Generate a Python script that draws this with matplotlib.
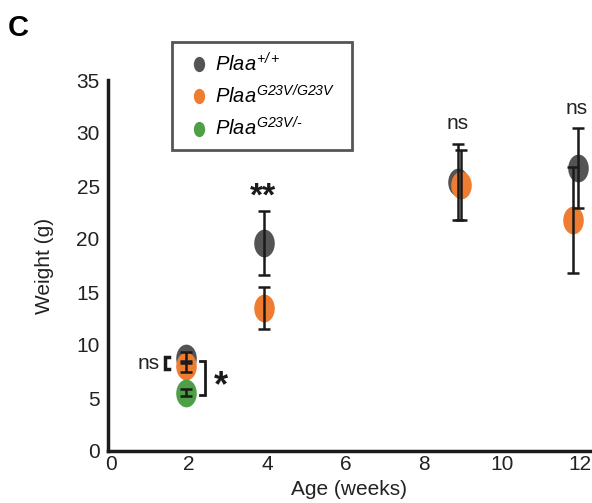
import numpy as np
import matplotlib.pyplot as plt
from matplotlib.path import Path
from matplotlib.transforms import Affine2D, ScaledTranslation
from matplotlib.lines import Line2D
from matplotlib.patches import Rectangle

plt.rcParams['font.family'] = ['Liberation Sans', 'DejaVu Sans']
plt.rcParams['mathtext.fontset'] = 'custom'
plt.rcParams['mathtext.it'] = 'Liberation Sans:italic'
plt.rcParams['mathtext.rm'] = 'Liberation Sans:italic'

# weight (g) by age, mean and error
wt_age = [2, 4, 8.95, 12.02]
wt_mean = [8.8, 19.6, 25.4, 26.7]
wt_err = [0.5, 3.0, 3.6, 3.75]

g23v_age = [2, 4, 9.03, 11.9]
g23v_mean = [8.0, 13.5, 25.1, 21.8]
g23v_err = [0.5, 2.0, 3.3, 5.0]

het_age = [2]
het_mean = [5.5]
het_err = [0.35]

labels = [r'$\mathit{Plaa}^{\mathit{+/+}}$',
          r'$\mathit{Plaa}^{\mathit{G23V/G23V}}$',
          r'$\mathit{Plaa}^{\mathit{G23V/}\text{-}}$']
colors = ['#545454', '#ee7d31', '#4ea046']

# tall ellipse marker
ellipse = Path.unit_circle().transformed(Affine2D().scale(0.74, 1.0))

fig = plt.figure(figsize=(5.92, 5.03), dpi=100)
ax = fig.add_axes([108/592, 1 - 451/503, 482/592, 371/503])

series = [(wt_age, wt_mean, wt_err), (g23v_age, g23v_mean, g23v_err), (het_age, het_mean, het_err)]
for i, (x, y, e) in enumerate(series):
    ax.plot(x, y, linestyle='none', marker=ellipse, markersize=20, color=colors[i],
            markeredgewidth=0, zorder=2 + i)
    ax.errorbar(x, y, yerr=e, fmt='none', ecolor='#1a1a1a', elinewidth=1.8,
                capsize=4, capthick=1.8, zorder=5 + i)

ax.set_xlim(0, 12.33)
ax.set_ylim(0, 35)
ax.set_xticks([0, 2, 4, 6, 8, 10, 12])
ax.set_yticks([0, 5, 10, 15, 20, 25, 30, 35])
ax.tick_params(length=0, labelsize=15, colors='#222222', pad=6)
ax.tick_params(axis='x', pad=3)
shift = ScaledTranslation(3/100, 0, fig.dpi_scale_trans)
for lab in ax.get_xticklabels():
    lab.set_transform(lab.get_transform() + shift)
for s in ['top', 'right']:
    ax.spines[s].set_visible(False)
for s in ['left', 'bottom']:
    ax.spines[s].set_linewidth(2.5)
    ax.spines[s].set_color('#1a1a1a')
ax.set_xlabel('Age (weeks)', fontsize=15, labelpad=4, color='#222222')
ax.set_ylabel('Weight (g)', fontsize=15, labelpad=16, color='#222222')

# significance marks
ax.text(8.95, 30.9, 'ns', ha='center', va='center', fontsize=15, color='#222222')
ax.text(12.0, 32.3, 'ns', ha='center', va='center', fontsize=15, color='#222222')
ax.text(3.97, 24.0, '**', ha='center', va='center', fontsize=24, fontweight='bold', color='#1a1a1a')
ax.plot([1.56, 1.46, 1.46, 1.56], [8.9, 8.9, 7.7, 7.7], color='#1a1a1a', lw=2.5,
        solid_joinstyle='miter', clip_on=False)
ax.text(1.03, 8.3, 'ns', ha='center', va='center', fontsize=15, color='#222222')
ax.plot([2.36, 2.48, 2.48, 2.36], [8.5, 8.5, 5.3, 5.3], color='#1a1a1a', lw=2,
        solid_joinstyle='miter', clip_on=False)
ax.text(2.9, 6.1, '*', ha='center', va='center', fontsize=26, fontweight='bold', color='#1a1a1a')

# legend: frame drawn separately so the entries can sit further in
fig.patches.append(Rectangle((172/592, 1 - 150/503), 180/592, 108/503,
                             transform=fig.transFigure, fill=False,
                             edgecolor='#555555', linewidth=2))
handles = [Line2D([], [], linestyle='none', marker=ellipse, markersize=11,
                  color=c, markeredgewidth=0) for c in colors]
leg = fig.legend(handles, labels, loc='upper left',
                 bbox_to_anchor=(179/592, 1 - 42/503),
                 fontsize=14.5, frameon=False,
                 handlelength=1.0, handletextpad=0.3, labelspacing=0.45,
                 borderpad=0.5, borderaxespad=0)

fig.text(8/592, 1 - 28/503, 'C', fontsize=21, fontweight='bold', va='center')

fig.savefig('out.png', dpi=100)
